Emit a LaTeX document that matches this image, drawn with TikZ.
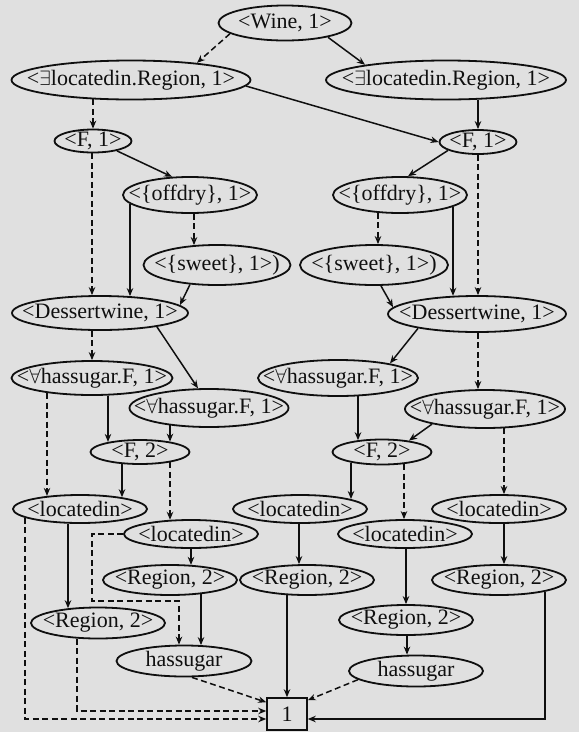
\documentclass[tikz,border=0pt]{standalone}
\usepackage{fontspec}
\setmainfont{Liberation Serif}
\usetikzlibrary{shapes.geometric,arrows.meta}
\definecolor{paper}{RGB}{224,224,224}
\definecolor{ink}{RGB}{15,15,15}
\newcommand\ovn[6]{\node[ov,minimum width=#4pt,minimum height=#5pt,label={[tx]center:{#6}}] (#1) at (#2,#3) {};}
\begin{document}
\begin{tikzpicture}[x=1pt,y=-1pt,
  ov/.style={ellipse,draw=ink,line width=1.8pt,inner sep=0pt},
  tx/.style={font=\fontsize{22}{25}\selectfont,text=ink,inner sep=0pt},
  ln/.style={draw=ink,line width=1.5pt,-{Stealth[length=8pt,width=6.5pt]}},
  dsh/.style={ln,dash pattern=on 6pt off 3.5pt}]
\useasboundingbox (0,0) rectangle (579,732);
\fill[paper] (0,0) rectangle (579,732);
% nodes
\ovn{Wine}{285}{23}{133}{35}{<Wine, 1>}
\ovn{L1}{131}{80}{239}{39}{<$\exists$locatedin.Region, 1>}
\ovn{R1}{446}{80}{240}{39}{<$\exists$locatedin.Region, 1>}
\ovn{F1L}{93}{141}{77}{23}{<F, 1>}
\ovn{F1R}{478}{142}{77}{24}{<F, 1>}
\ovn{OffL}{190}{195}{134}{36}{<\{offdry\}, 1>}
\ovn{OffR}{400}{195}{134}{36}{<\{offdry\}, 1>}
\ovn{SwL}{217}{265}{147}{40}{<\{sweet\}, 1>)}
\ovn{SwR}{374}{265}{148}{40}{<\{sweet\}, 1>)}
\ovn{DesL}{100}{313}{176}{34}{<Dessertwine, 1>}
\ovn{DesR}{477}{314}{178}{36}{<Dessertwine, 1>}
\ovn{AL1}{92}{378}{161}{34}{<$\forall$hassugar.F, 1>}
\ovn{AL2}{209}{408}{159}{38}{<$\forall$hassugar.F, 1>}
\ovn{AR1}{338}{378}{160}{36}{<$\forall$hassugar.F, 1>}
\ovn{AR2}{485}{409}{160}{38}{<$\forall$hassugar.F, 1>}
\ovn{F2L}{140}{452}{99}{24}{<F, 2>}
\ovn{F2R}{382}{452}{99}{25}{<F, 2>}
\ovn{LocLa}{80}{509}{134}{28}{<locatedin>}
\ovn{LocLb}{191}{534}{134}{28}{<locatedin>}
\ovn{LocMa}{300}{509}{134}{28}{<locatedin>}
\ovn{LocMb}{405}{534}{134}{28}{<locatedin>}
\ovn{LocR}{499}{509}{134}{28}{<locatedin>}
\ovn{RegLb}{170}{580}{134}{30}{<Region, 2>}
\ovn{RegM}{307}{580}{134}{30}{<Region, 2>}
\ovn{RegR}{499}{580}{134}{30}{<Region, 2>}
\ovn{RegL}{98}{623}{134}{31}{<Region, 2>}
\ovn{RegMb}{406}{620}{134}{30}{<Region, 2>}
\ovn{HasL}{184}{661}{135}{31}{hassugar}
\ovn{HasR}{416}{671}{134}{31}{hassugar}
\node[draw=ink,line width=1.6pt,minimum width=40pt,minimum height=32pt,inner sep=0pt,tx] (Box) at (287,714) {1};
% connectors
\draw[dsh] ([xshift=-55pt,yshift=7.7pt]Wine.south) -- ([xshift=66pt,yshift=-3.2pt]L1.north);
\draw[ln] ([xshift=43pt,yshift=4.1pt]Wine.south) -- ([xshift=-81pt,yshift=-5.1pt]R1.north);
\draw[dsh] ([xshift=-38pt,yshift=1pt]L1.south) -- (F1L.north);
\draw[ln] (L1.-3) -- (F1R.west);
\draw[ln] ([xshift=32pt,yshift=0.7pt]R1.south) -- (F1R.north);
\draw[ln] ([xshift=24pt,yshift=2.5pt]F1L.south) -- ([xshift=-18pt,yshift=-0.7pt]OffL.north);
\draw[ln] ([xshift=-30pt,yshift=4.5pt]F1R.south) -- ([xshift=8pt,yshift=-0.1pt]OffR.north);
\draw[dsh] ([xshift=-1pt]F1L.south) -- ([xshift=-8pt]DesL.north);
\draw[dsh] (F1R.south) -- ([xshift=1pt]DesR.north);
\draw[dsh] ([xshift=4pt]OffL.south) -- ([xshift=-23pt,yshift=-1pt]SwL.north);
\draw[ln] ([xshift=-60pt,yshift=10pt]OffL.south) -- ([xshift=30pt,yshift=-1pt]DesL.north);
\draw[ln] ([xshift=-27pt,yshift=1.4pt]SwL.south) -- ([xshift=80pt,yshift=-9.9pt]DesL.north);
\draw[dsh] ([xshift=-22pt,yshift=1pt]OffR.south) -- ([xshift=4pt]SwR.north);
\draw[ln] ([xshift=53pt,yshift=7pt]OffR.south) -- ([xshift=-24pt,yshift=-0.7pt]DesR.north);
\draw[ln] ([xshift=7pt]SwR.south) -- ([xshift=-84pt,yshift=-12.1pt]DesR.north);
\draw[dsh] ([xshift=-8pt]DesL.south) -- (AL1.north);
\draw[ln] ([xshift=57pt,yshift=4pt]DesL.south) -- ([xshift=-11pt,yshift=-0.2pt]AL2.north);
\draw[ln] ([xshift=-59pt,yshift=4.5pt]DesR.south) -- ([xshift=52pt,yshift=-4.3pt]AR1.north);
\draw[dsh] ([xshift=1pt]DesR.south) -- ([xshift=-7pt]AR2.north);
\draw[dsh] ([xshift=-45pt,yshift=2.9pt]AL1.south) -- ([xshift=-33pt,yshift=-1.8pt]LocLa.north);
\draw[ln] ([xshift=16pt,yshift=0.3pt]AL1.south) -- ([xshift=-32pt,yshift=-2.8pt]F2L.north);
\draw[ln] ([xshift=-39pt,yshift=2.5pt]AL2.south) -- ([xshift=30pt,yshift=-2.5pt]F2L.north);
\draw[ln] ([xshift=20pt,yshift=0.6pt]AR1.south) -- ([xshift=-24pt,yshift=-1.6pt]F2R.north);
\draw[ln] ([xshift=-53pt,yshift=4.8pt]AR2.south) -- ([xshift=27pt,yshift=-2pt]F2R.north);
\draw[dsh] ([xshift=19pt,yshift=0.55pt]AR2.south) -- ([xshift=5pt]LocR.north);
\draw[ln] ([xshift=-18pt,yshift=0.8pt]F2L.south) -- ([xshift=42pt,yshift=-3.1pt]LocLa.north);
\draw[dsh] ([xshift=30pt,yshift=2.5pt]F2L.south) -- ([xshift=-21pt,yshift=-0.7pt]LocLb.north);
\draw[ln] ([xshift=-31pt,yshift=2.75pt]F2R.south) -- ([xshift=51pt,yshift=-4.9pt]LocMa.north);
\draw[dsh] ([xshift=22pt,yshift=1.3pt]F2R.south) -- ([xshift=-1pt]LocMb.north);
\draw[ln] ([xshift=-12pt,yshift=0.2pt]LocLa.south) -- ([xshift=-30pt,yshift=-1.6pt]RegL.north);
\draw[dsh] ([xshift=-55pt,yshift=6pt]LocLa.south) |- ([yshift=-5pt]Box.west);
\draw[dsh] (LocLb.west) -| (92,601) -| ([xshift=-5pt]HasL.north);
\draw[ln] (LocLb.south) -- ([xshift=21pt,yshift=-0.75pt]RegLb.north);
\draw[ln] ([xshift=31pt,yshift=1.7pt]RegLb.south) -- ([xshift=17pt,yshift=-0.5pt]HasL.north);
\draw[dsh] ([xshift=-21pt,yshift=0.8pt]RegL.south) |- ([yshift=3pt]Box.west);
\draw[dsh] ([xshift=8pt]HasL.south) -- ([yshift=-5pt]Box.north west);
\draw[ln] ([xshift=-1pt]LocMa.south) -- ([xshift=-8pt]RegM.north);
\draw[ln] ([xshift=-20pt,yshift=0.7pt]RegM.south) -- (Box.north);
\draw[ln] ([xshift=1pt]LocMb.south) -- (RegMb.north);
\draw[ln] ([xshift=1pt]RegMb.south) -- ([xshift=-9pt]HasR.north);
\draw[dsh] ([xshift=-58pt,yshift=7.75pt]HasR.south) -- ([yshift=-3pt]Box.north east);
\draw[ln] ([xshift=5pt]LocR.south) -- ([xshift=5pt]RegR.north);
\draw[ln] ([xshift=46pt,yshift=4.1pt]RegR.south) |- ([yshift=-5pt]Box.east);
\end{tikzpicture}
\end{document}
